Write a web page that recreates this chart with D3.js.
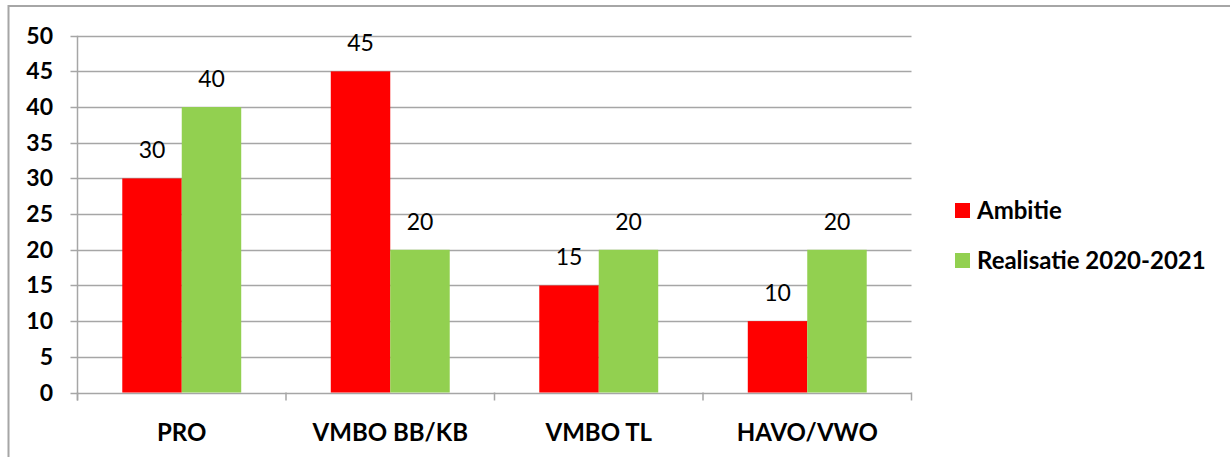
<!DOCTYPE html>
<html>
<head>
<meta charset="utf-8">
<script src="https://cdn.jsdelivr.net/npm/d3@7"></script>
<style>
  body { margin: 0; background: #fff; }
  text { font-family: Lato, "Open Sans", sans-serif; }
</style>
</head>
<body>
<div id="chart"></div>
<script>
// data
var categories = ["PRO", "VMBO BB/KB", "VMBO TL", "HAVO/VWO"];
var seriesNames = ["Ambitie", "Realisatie 2020-2021"];
var ambitie = [30, 45, 15, 10];
var realisatie = [40, 20, 20, 20];
var yTicks = [0, 5, 10, 15, 20, 25, 30, 35, 40, 45, 50];
var colours = ["#ff0000", "#92d050"];

var width = 1230, height = 457;
var svg = d3.select("#chart").append("svg")
    .attr("width", width)
    .attr("height", height);

// outer frame
svg.append("rect")
  .attr("x", 8.5).attr("y", 6)
  .attr("width", 1230).attr("height", 460)
  .attr("fill", "none")
  .attr("stroke", "#a6a6a6")
  .attr("stroke-width", 2);

var plotLeft = 77.5, plotRight = 911.5, plotTop = 35.7, plotBottom = 392.5;

var x0 = d3.scaleBand().domain(categories).range([plotLeft, plotRight]);
var x1 = d3.scaleBand().domain(seriesNames)
    .range([0, x0.bandwidth()]).paddingOuter(0.753);
var y = d3.scaleLinear().domain([0, 50]).range([plotBottom, plotTop]);

// gridlines + y ticks
svg.append("g").selectAll("line")
  .data(yTicks).enter().append("line")
  .attr("x1", plotLeft - 7).attr("x2", plotRight)
  .attr("y1", function(d) { return Math.round(y(d)) + 0.5; })
  .attr("y2", function(d) { return Math.round(y(d)) + 0.5; })
  .attr("stroke", "#a6a6a6")
  .attr("stroke-width", 1.5);

// y axis line
svg.append("line")
  .attr("x1", plotLeft).attr("x2", plotLeft)
  .attr("y1", plotTop).attr("y2", plotBottom + 8)
  .attr("stroke", "#a6a6a6").attr("stroke-width", 1.5);

// x category tick marks
svg.append("g").selectAll("line")
  .data(categories.concat(["end"])).enter().append("line")
  .attr("x1", function(d, i) { return plotLeft + i * x0.step(); })
  .attr("x2", function(d, i) { return plotLeft + i * x0.step(); })
  .attr("y1", plotBottom).attr("y2", plotBottom + 8)
  .attr("stroke", "#a6a6a6").attr("stroke-width", 1.5);

// y labels
svg.append("g").selectAll("text")
  .data(yTicks).enter().append("text")
  .attr("x", 53)
  .attr("y", function(d) { return y(d) + 8; })
  .attr("text-anchor", "end")
  .attr("font-size", 23).attr("font-weight", "bold")
  .text(function(d) { return d; });

// bars
var series = [ambitie, realisatie];
series.forEach(function(vals, s) {
  var g = svg.append("g");
  g.selectAll("rect")
    .data(vals).enter().append("rect")
    .attr("x", function(d, i) { return x0(categories[i]) + x1(seriesNames[s]); })
    .attr("width", x1.bandwidth())
    .attr("y", function(d) { return y(d); })
    .attr("height", function(d) { return y(0) - y(d); })
    .attr("fill", colours[s]);
  g.selectAll("text")
    .data(vals).enter().append("text")
    .attr("x", function(d, i) { return x0(categories[i]) + x1(seriesNames[s]) + x1.bandwidth() / 2; })
    .attr("y", function(d) { return y(d) - 20; })
    .attr("text-anchor", "middle")
    .attr("font-size", 23)
    .text(function(d) { return d; });
});

// category labels
svg.append("g").selectAll("text")
  .data(categories).enter().append("text")
  .attr("x", function(d) { return x0(d) + x0.bandwidth() / 2; })
  .attr("y", 441)
  .attr("text-anchor", "middle")
  .attr("font-size", 24).attr("font-weight", "bold")
  .text(function(d) { return d; });

// legend
var legend = svg.append("g").selectAll("g")
  .data(seriesNames).enter().append("g")
  .attr("transform", function(d, i) { return "translate(955," + (203 + i * 50) + ")"; });
legend.append("rect")
  .attr("width", 15).attr("height", 15)
  .attr("fill", function(d, i) { return colours[i]; });
legend.append("text")
  .attr("x", 22).attr("y", 16)
  .attr("font-size", 24).attr("font-weight", "bold")
  .text(function(d) { return d; });
</script>
</body>
</html>
